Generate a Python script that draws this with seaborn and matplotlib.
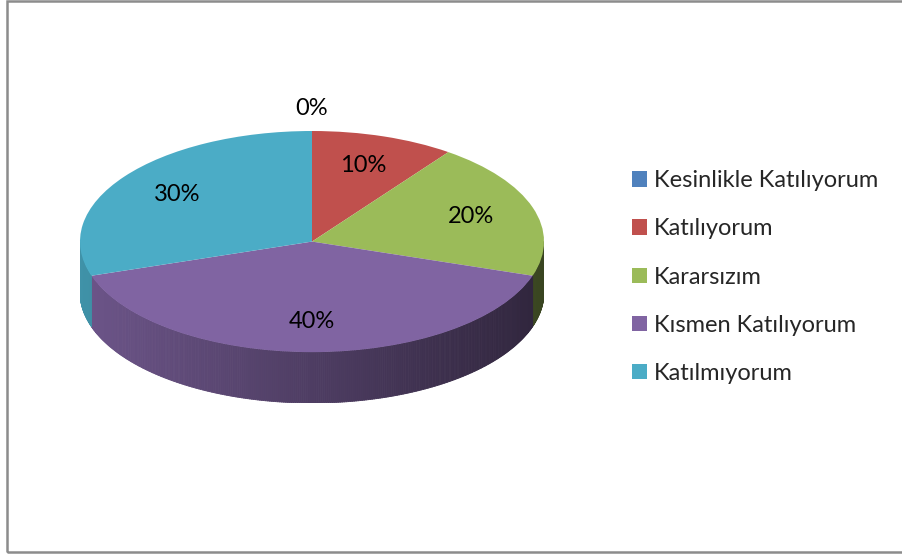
import numpy as np
import seaborn as sns
import matplotlib.pyplot as plt
from matplotlib.patches import Rectangle
from matplotlib.collections import PolyCollection
from matplotlib.colors import to_rgb

# %% Data

lst_categories = ['Kesinlikle Katılıyorum',
                  'Katılıyorum',
                  'Kararsızım',
                  'Kısmen Katılıyorum',
                  'Katılmıyorum']
lst_values = [0, 10, 20, 40, 30]
lst_colors = ['#4F81BD', '#C0504D', '#9BBB59', '#8064A2', '#4BACC6']

# %% Style

sns.set_theme(style='white')
plt.rcParams['font.family'] = ['Lato', 'DejaVu Sans']
var_fs = 17

var_w, var_h = 902, 556
fig = plt.figure(figsize=(var_w / 100, var_h / 100), dpi=100)

# outer chart border
fig.patches.append(Rectangle((7 / var_w, 1 - 552 / var_h),
                             (var_w + 20) / var_w, 551 / var_h,
                             transform=fig.transFigure, fill=False,
                             edgecolor='#8c8c8c', linewidth=1.8))

# axes for pie: top ellipse px 80..544 (x), 131..352 (y), side down to 403
var_depth = 0.46
ax = fig.add_axes([80 / var_w, 1 - 403 / var_h, 464 / var_w, 272 / var_h])
ax.set_xlim(-1, 1)
ax.set_ylim(-1 - var_depth, 1)
ax.axis('off')

# %% Side of the pie (front half only), shaded left -> right
ary_val = np.array(lst_values, dtype=float)
ary_cum = np.concatenate([[0], np.cumsum(ary_val) / ary_val.sum()])
lst_polys, lst_fc = [], []
for ind in range(len(ary_val)):
    th2 = np.deg2rad(90 - 360 * ary_cum[ind])
    th1 = np.deg2rad(90 - 360 * ary_cum[ind + 1])
    if th2 - th1 <= 0:
        continue
    ary_th = np.linspace(th1, th2, max(int(np.degrees(th2 - th1) * 2), 2))
    base = np.array(to_rgb(lst_colors[ind]))
    for a, b in zip(ary_th[:-1], ary_th[1:]):
        mid = 0.5 * (a + b)
        if np.sin(mid) > 0:
            continue
        x_mid = np.cos(mid)
        fac = 0.85 - 0.24 * (x_mid + 1)
        lst_polys.append([(np.cos(a), np.sin(a)), (np.cos(b), np.sin(b)),
                          (np.cos(b), np.sin(b) - var_depth),
                          (np.cos(a), np.sin(a) - var_depth)])
        lst_fc.append(tuple(base * fac))
ax.add_collection(PolyCollection(lst_polys, facecolors=lst_fc,
                                 edgecolors=lst_fc, linewidths=0.6,
                                 zorder=1))

# %% Top face
wedges, texts, autotexts = ax.pie(lst_values,
                                  colors=sns.color_palette(lst_colors),
                                  startangle=90, counterclock=False,
                                  autopct='%1.0f%%', pctdistance=0.72,
                                  textprops={'fontsize': var_fs,
                                             'color': 'black'},
                                  wedgeprops={'linewidth': 0})
for w in wedges:
    w.set_zorder(2)
ax.set_aspect('auto')
ax.set_xlim(-1, 1)
ax.set_ylim(-1 - var_depth, 1)

# zero-valued slices get their label outside the pie
for ind, txt in enumerate(autotexts):
    txt.set_zorder(3)
    if lst_values[ind] == 0:
        ang = np.deg2rad(90 - 360 * ary_cum[ind])
        txt.set_position((1.2 * np.cos(ang), 1.2 * np.sin(ang)))

# %% Legend
fig.legend(wedges, lst_categories, loc='center left',
           bbox_to_anchor=(632 / var_w, 1 - 277 / var_h),
           frameon=False, fontsize=var_fs, handlelength=0.62,
           handleheight=0.62, handletextpad=0.3, labelspacing=1.15,
           borderpad=0, borderaxespad=0)

fig.savefig('out.png', dpi=100)
